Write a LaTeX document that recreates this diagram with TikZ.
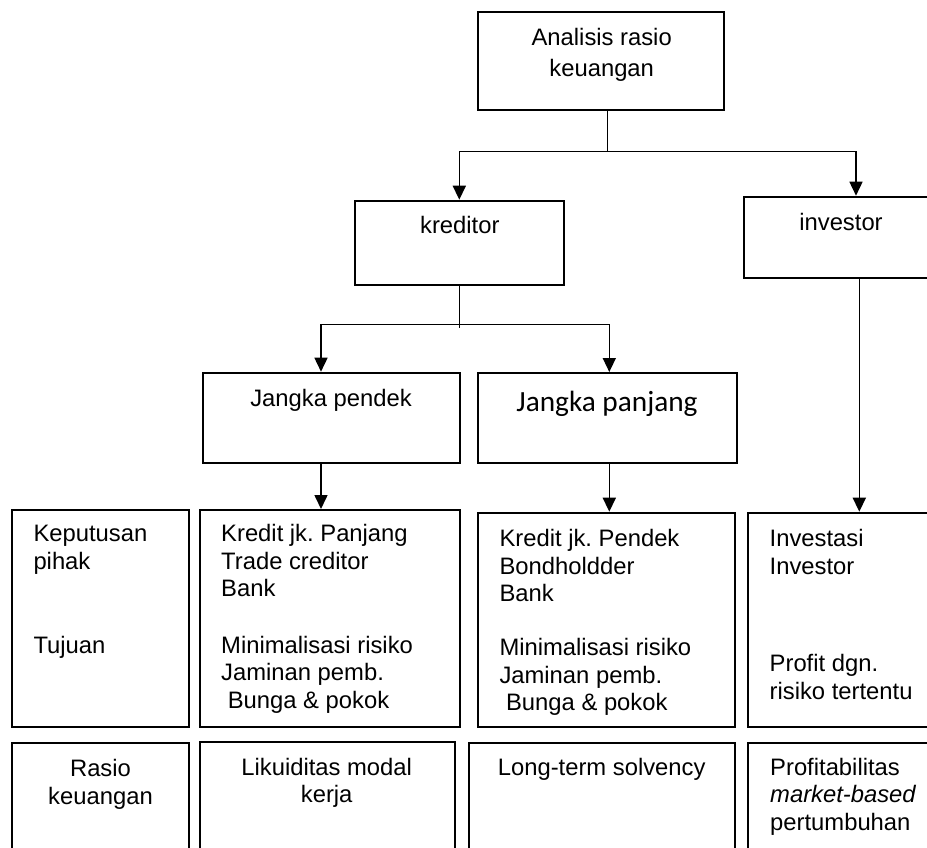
\documentclass[tikz,border=0pt]{standalone}
\usepackage{fontspec}
\setmainfont{Liberation Sans}
\newfontfamily\calibfont{Carlito}
\usetikzlibrary{arrows.meta,fit}
\frenchspacing
\begin{document}
\begin{tikzpicture}[x=1pt,y=-1pt,
  box/.style={draw,line width=2pt,inner sep=0pt,rectangle},
  conn/.style={line width=1.6pt},
  arr/.style={conn,-{Triangle[length=14pt,width=13pt]}},
  txt/.style={inner sep=0pt,font=\frenchspacing\fontsize{23.8}{27.5}\selectfont},
  ltxt/.style={txt,align=left,anchor=north west},
  ctxt/.style={txt,align=center,anchor=north}]
\useasboundingbox (0,0) rectangle (927,848);
\clip (0,0) rectangle (927,848);
% guide coordinates
\coordinate (xa) at (321,0);
\coordinate (xb) at (609.3,0);
\coordinate (xc) at (856,0);
\coordinate (xd) at (859.3,0);
\coordinate (xk) at (459.3,0);
\coordinate (xt) at (607.3,0);
% boxes
\node[box,fit={(478,12) (724,110)}] (top) {};
\node[box,fit={(355,200.7) (564.3,285)}] (kred) {};
\node[box,fit={(744.3,196.7) (945,278.3)}] (inv) {};
\node[box,fit={(203,372.7) (459.5,463.3)}] (jp) {};
\node[box,fit={(478,373) (736.7,463.3)}] (jpj) {};
\node[box,fit={(12.3,510) (189,727)}] (ra) {};
\node[box,fit={(200,510) (459.5,727)}] (rb) {};
\node[box,fit={(477.5,512.7) (735,727)}] (rc) {};
\node[box,fit={(747.5,512.7) (945,727)}] (rd) {};
\node[box,fit={(12.3,742.5) (189,870)}] (sa) {};
\node[box,fit={(200,742) (455,870)}] (sb) {};
\node[box,fit={(469.3,742.5) (734.5,870)}] (sc) {};
\node[box,fit={(747.5,742.5) (945,870)}] (sd) {};
% texts
\node[ctxt] (ttop) at (601.7,26.45) {\strut Analisis rasio\\[2.8pt]keuangan};
\node[txt,anchor=base] (tkred) at (459.8,233.3) {kreditor};
\node[txt,anchor=base] (tinv) at (841,230) {investor};
\node[txt,anchor=base] (tjp) at (331,406) {Jangka pendek};
\node[inner sep=0pt,anchor=base,font=\calibfont\fontsize{29.3}{34}\selectfont] (tjpj) at (607,411.7) {Jangka panjang};
\node[ltxt] (ta1) at (33.3,522.45) {\strut Keputusan\\pihak};
\node[txt,anchor=base west] (ta2) at (33.3,653) {Tujuan};
\node[ltxt] (tb1) at (221,522.45) {\strut Kredit jk. Panjang\\Trade creditor\\Bank};
\node[ltxt] (tb2) at (221,633.75) {\strut Minimalisasi risiko\\Jaminan pemb.\\\hspace*{0.278em}Bunga \& pokok};
\node[ltxt] (tc1) at (499.3,527.45) {\strut Kredit jk. Pendek\\Bondholdder\\Bank};
\node[ltxt] (tc2) at (499.3,636.25) {\strut Minimalisasi risiko\\Jaminan pemb.\\\hspace*{0.278em}Bunga \& pokok};
\node[ltxt] (td1) at (769.5,527.45) {\strut Investasi\\Investor};
\node[ltxt] (td2) at (769.5,652.45) {\strut Profit dgn.\\risiko tertentu};
\node[ctxt] (tsa) at (100.5,757.45) {\strut Rasio\\keuangan};
\node[ctxt] (tsb) at (326.7,755.75) {\strut Likuiditas modal\\kerja};
\node[txt,anchor=base] (tsc) at (601.7,775) {Long-term solvency};
\node[ltxt] (tsd) at (770,755.75) {\strut Profitabilitas\\\textit{market-based}\\pertumbuhan};
% connectors
\coordinate (j1) at (607.3,151.7);
\coordinate (j2) at (459.3,324.3);
\coordinate (kstub) at (459.3,328.3);
\draw[conn] (top.south -| xt) -- (j1);
\draw[arr] (j1) -| (kred.north -| xk);
\draw[arr] (j1) -| (inv.north -| xc);
\draw[conn] (kred.south -| xk) -- (kstub);
\draw[arr] (j2) -| (jp.north -| xa);
\draw[arr] (j2) -| (jpj.north -| xb);
\draw[arr] (jp.south -| xa) -- (rb.north -| xa);
\draw[arr] (jpj.south -| xb) -- (rc.north -| xb);
\draw[arr] (inv.south -| xd) -- (rd.north -| xd);
\end{tikzpicture}
\end{document}
